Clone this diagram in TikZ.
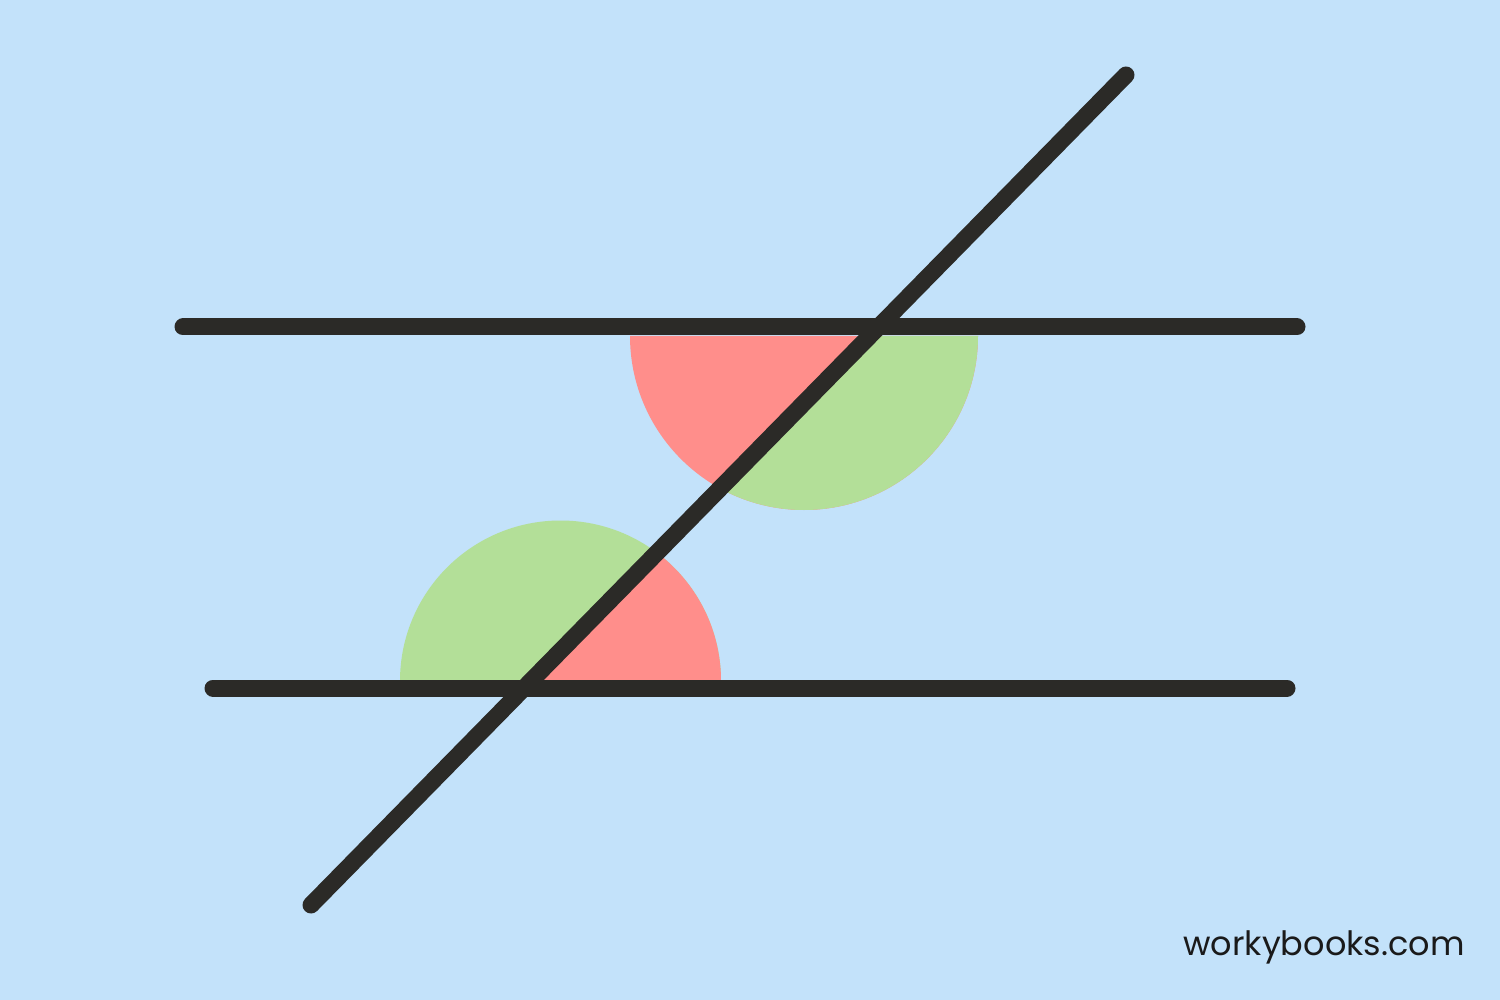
\documentclass[tikz,border=0pt]{standalone}
\usepackage{fontspec}
\setmainfont{Poppins}
\definecolor{bg}{HTML}{C3E2FA}
\definecolor{angred}{HTML}{FF8E8B}
\definecolor{anggreen}{HTML}{B3DF98}
\definecolor{ink}{HTML}{2B2A27}
\definecolor{txt}{HTML}{1A1A1A}
\tikzset{
  thickline/.style={draw=ink, line width=17pt, line cap=round},
}
\begin{document}
\begin{tikzpicture}[x=1pt,y=-1pt]
\useasboundingbox (0,0) rectangle (1500,1000);
\fill[bg] (0,0) rectangle (1500,1000);
\coordinate (A1) at (183,327);
\coordinate (A2) at (1297,327);
\coordinate (B1) at (213,688);
\coordinate (B2) at (1287,688);
\coordinate (T1) at (1126,75);
\coordinate (T2) at (311,905);
% top semicircle (below top line)
\fill[angred] (630,336) arc[start angle=180,end angle=0,radius=174] -- cycle;
\begin{scope}
  \clip (630,336) arc[start angle=180,end angle=0,radius=174] -- cycle;
  \fill[anggreen] (T1) -- (1500,75) -- (1500,1000) -- (218,1000) -- cycle;
\end{scope}
% bottom semicircle (above bottom line)
\fill[anggreen] (400,681) arc[start angle=180,end angle=360,radius=160.5] -- cycle;
\begin{scope}
  \clip (400,681) arc[start angle=180,end angle=360,radius=160.5] -- cycle;
  \fill[angred] (T1) -- (1500,75) -- (1500,1000) -- (218,1000) -- cycle;
\end{scope}
\draw[thickline] (A1) -- (A2);
\draw[thickline] (B1) -- (B2);
\draw[thickline] (T1) -- (T2);
\node[text=txt, font=\fontsize{33.5}{40}\selectfont, anchor=base] (wb) at (1324,955) {workybooks.com};
\end{tikzpicture}
\end{document}
